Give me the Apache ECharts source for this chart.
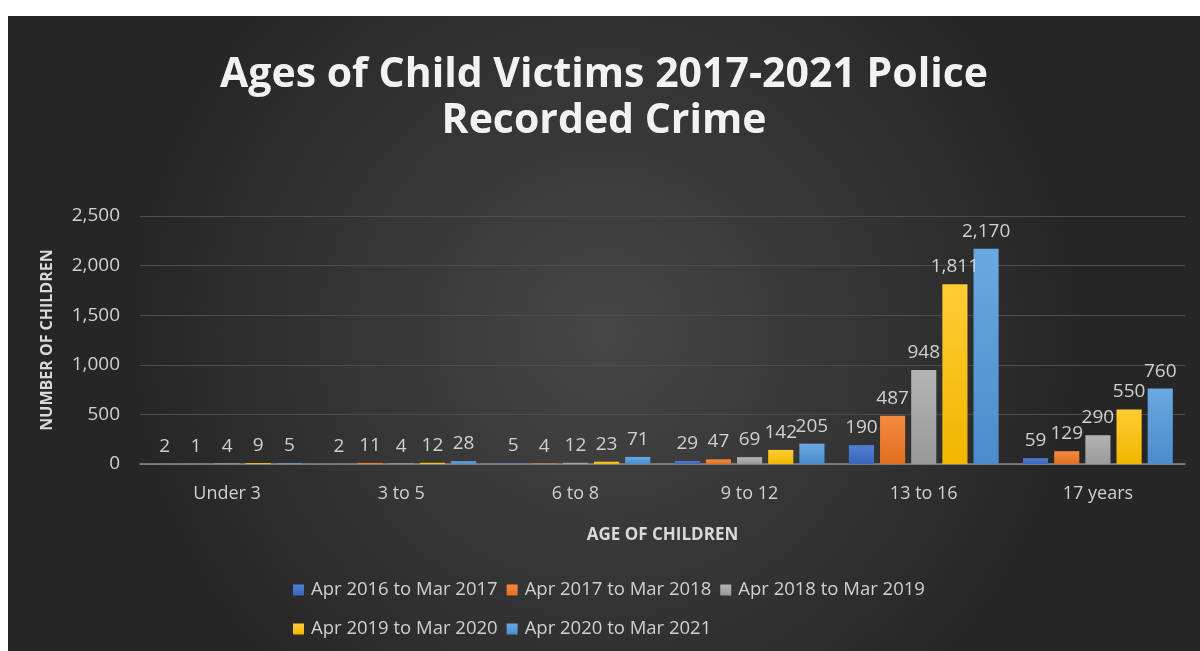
<!DOCTYPE html>
<html>
<head>
<meta charset="utf-8">
<script src="https://cdn.jsdelivr.net/npm/echarts@6/dist/echarts.min.js"></script>
<style>
  html, body { margin: 0; padding: 0; background: #ffffff; }
  #chart { position: absolute; left: 8px; top: 16px; width: 1192px; height: 635px; }
</style>
</head>
<body>
<div id="chart"></div>
<script>
// categories and series
var ageGroups = ['Under 3', '3 to 5', '6 to 8', '9 to 12', '13 to 16', '17 years'];
var periodNames = ['Apr 2016 to Mar 2017', 'Apr 2017 to Mar 2018', 'Apr 2018 to Mar 2019', 'Apr 2019 to Mar 2020', 'Apr 2020 to Mar 2021'];
var apr2016 = [2, 2, 5, 29, 190, 59];
var apr2017 = [1, 11, 4, 47, 487, 129];
var apr2018 = [4, 4, 12, 69, 948, 290];
var apr2019 = [9, 12, 23, 142, 1811, 550];
var apr2020 = [5, 28, 71, 205, 2170, 760];
var yTicks = [0, 500, 1000, 1500, 2000, 2500];

var seriesData = [apr2016, apr2017, apr2018, apr2019, apr2020];
// top / bottom colours of each bar
var barColors = [
	['#5080d4', '#3c66b8'],
	['#f58a40', '#e0701f'],
	['#b4b4b4', '#999999'],
	['#ffcc33', '#f2b600'],
	['#6aa9e0', '#4a8ccc']
];

var fmt = function(v) {
	return String(v).replace(/\B(?=(\d{3})+(?!\d))/g, ',');
};

var chartDom = document.getElementById('chart');
var myChart = echarts.init(chartDom);

var series = [];
for (var i = 0; i < seriesData.length; i++) {
	series.push({
		name: periodNames[i],
		type: 'bar',
		data: seriesData[i],
		barGap: '24%',
		barCategoryGap: '14%',
		itemStyle: {
			color: new echarts.graphic.LinearGradient(0, 0, 0, 1, [
				{offset: 0, color: barColors[i][0]},
				{offset: 1, color: barColors[i][1]}
			])
		},
		label: {
			show: true,
			position: 'top',
			distance: 8,
			color: '#d0d0d0',
			fontFamily: 'Open Sans',
			fontSize: 19,
			formatter: function(p) { return fmt(p.value); }
		}
	});
}

var option = {
	backgroundColor: new echarts.graphic.RadialGradient(0.5, 0.5, 0.75, [
		{offset: 0, color: '#464646'},
		{offset: 1, color: '#262626'}
	]),
	title: {
		text: 'Ages of Child Victims 2017-2021 Police\nRecorded Crime',
		left: 'center',
		top: 31,
		textStyle: {
			color: '#f2f2f2',
			fontFamily: 'Open Sans',
			fontWeight: 'bold',
			fontSize: 41,
			lineHeight: 46
		}
	},
	legend: {
		data: periodNames,
		left: 280,
		top: 554,
		width: 700,
		itemWidth: 11,
		itemHeight: 11,
		itemGap: 9,
		icon: 'rect',
		textStyle: {
			color: '#d0d0d0',
			fontFamily: 'Open Sans',
			fontSize: 18.5,
			lineHeight: 30,
			padding: [0, 0, 0, 2]
		}
	},
	grid: {
		left: 132,
		right: 15,
		top: 200,
		bottom: 187
	},
	xAxis: {
		type: 'category',
		data: ageGroups,
		name: 'AGE OF CHILDREN',
		nameLocation: 'middle',
		nameGap: 63,
		nameTextStyle: {
			color: '#d9d9d9',
			fontFamily: 'Open Sans',
			fontWeight: 'bold',
			fontSize: 17
		},
		axisLine: { lineStyle: { color: '#8c8c8c', width: 1.5 } },
		axisTick: { show: false },
		axisLabel: {
			color: '#d0d0d0',
			fontFamily: 'Open Sans',
			fontSize: 18,
			margin: 21
		}
	},
	yAxis: {
		type: 'value',
		min: yTicks[0],
		max: yTicks[yTicks.length - 1],
		interval: 500,
		name: 'NUMBER OF CHILDREN',
		nameLocation: 'middle',
		nameGap: 85,
		nameTextStyle: {
			color: '#d9d9d9',
			fontFamily: 'Open Sans',
			fontWeight: 'bold',
			fontSize: 16
		},
		axisLine: { show: false },
		axisTick: { show: false },
		splitLine: { lineStyle: { color: '#4d4d4d', width: 1 } },
		axisLabel: {
			color: '#d0d0d0',
			fontFamily: 'Open Sans',
			fontSize: 19,
			margin: 20,
			formatter: function(v) { return fmt(v); }
		}
	},
	series: series
};

myChart.setOption(option);
</script>
</body>
</html>
